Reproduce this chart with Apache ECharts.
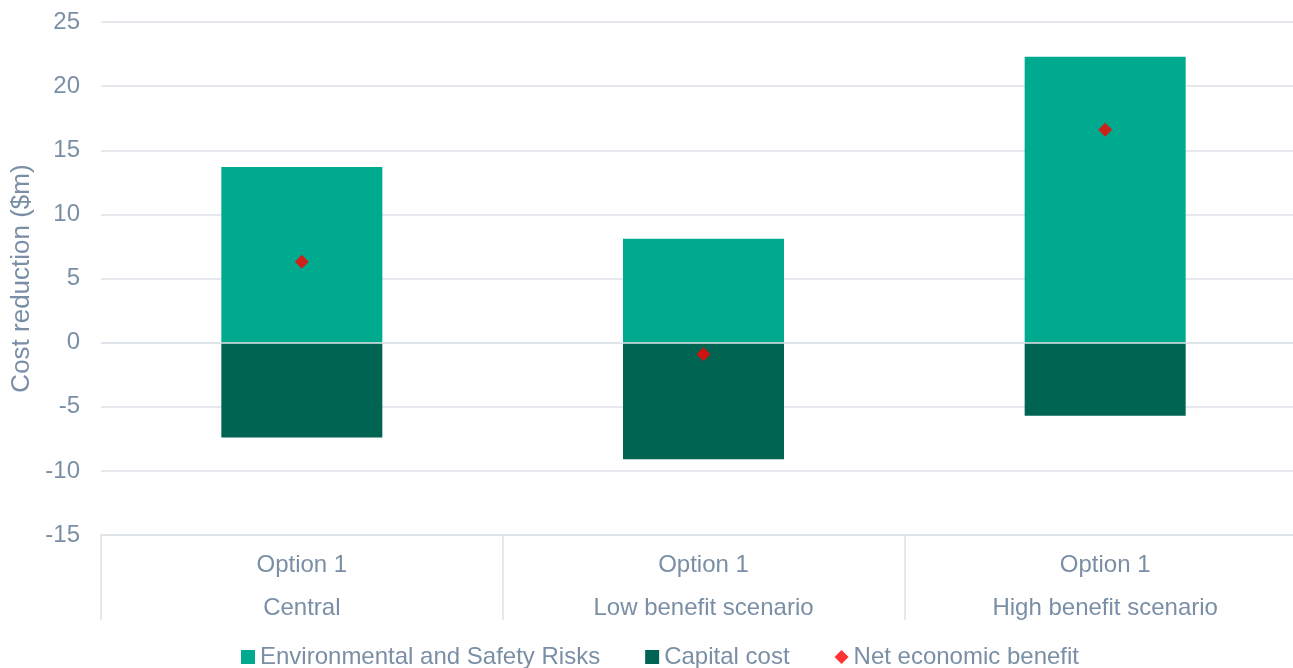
<!DOCTYPE html>
<html>
<head>
<meta charset="utf-8">
<script src="https://cdn.jsdelivr.net/npm/echarts@6/dist/echarts.min.js"></script>
<style>
html,body{margin:0;padding:0;background:#fff;}
#chart{width:1293px;height:668px;}
</style>
</head>
<body>
<div id="chart"></div>
<script>
const categoriesTop = ['Option 1', 'Option 1', 'Option 1'];
const categoriesBottom = ['Central', 'Low benefit scenario', 'High benefit scenario'];
const envSafety = [13.7, 8.1, 22.3];
const capitalCost = [-7.4, -9.1, -5.7];
const netBenefit = [6.3, -0.9, 16.6];
const yTicks = {min: -15, max: 25, interval: 5};

const textColor = '#7a8fa6';
const gridColor = '#dde2e8';
const font = 'Liberation Sans, Arial, sans-serif';

const chart = echarts.init(document.getElementById('chart'));
chart.setOption({
  animation: false,
  textStyle: {fontFamily: font},
  grid: {left: 101, top: 22, width: 1205, bottom: 133, containLabel: false, outerBoundsMode: 'none'},
  legend: {
    bottom: -6,
    left: 236,
    itemWidth: 14,
    itemHeight: 14,
    itemGap: 45,
    textStyle: {color: textColor, fontSize: 24, fontFamily: font},
    data: [
      {name: 'Environmental and Safety Risks', icon: 'rect'},
      {name: 'Capital cost', icon: 'rect'},
      {name: 'Net economic benefit', icon: 'diamond'}
    ]
  },
  xAxis: {
    type: 'category',
    data: categoriesBottom.map((c, i) => categoriesTop[i] + '\n' + c),
    position: 'bottom',
    axisLine: {onZero: false, lineStyle: {color: gridColor, width: 1.5}},
    axisTick: {show: true, length: 85, interval: 0, lineStyle: {color: gridColor, width: 1.5}},
    axisLabel: {color: textColor, fontSize: 24, lineHeight: 43, margin: 9, fontFamily: font, interval: 0}
  },
  yAxis: {
    type: 'value',
    min: yTicks.min,
    max: yTicks.max,
    interval: yTicks.interval,
    name: 'Cost reduction ($m)',
    nameLocation: 'middle',
    nameGap: 66,
    nameTextStyle: {color: textColor, fontSize: 26, fontFamily: font},
    axisLine: {show: false},
    axisTick: {show: false},
    axisLabel: {color: textColor, fontSize: 24, margin: 21, fontFamily: font},
    splitLine: {lineStyle: {color: gridColor, width: 1.5}}
  },
  series: [
    {
      name: 'Environmental and Safety Risks',
      type: 'bar',
      stack: 'total',
      barWidth: 161,
      itemStyle: {color: '#00aa8e'},
      data: envSafety,
      markLine: {
        silent: true,
        symbol: 'none',
        label: {show: false},
        lineStyle: {color: '#dfe5ea', width: 1.5, type: 'solid'},
        data: [{yAxis: 0}],
        z: 5
      }
    },
    {
      name: 'Capital cost',
      type: 'bar',
      stack: 'total',
      barWidth: 161,
      itemStyle: {color: '#006452'},
      data: capitalCost
    },
    {
      name: 'Net economic benefit',
      type: 'scatter',
      symbol: 'diamond',
      symbolSize: 14,
      itemStyle: {color: '#ff0000'},
      z: 10,
      data: netBenefit
    }
  ]
});
</script>
</body>
</html>
